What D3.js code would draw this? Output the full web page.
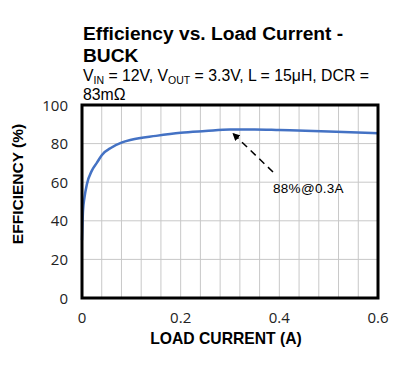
<!DOCTYPE html>
<html><head><meta charset="utf-8">
<script src="https://cdn.jsdelivr.net/npm/d3@7/dist/d3.min.js"></script>
<style>body{margin:0;background:#fff}svg{display:block}</style>
</head><body>
<script>
const loadCurrent = [0, 0.002, 0.005, 0.01, 0.02, 0.03, 0.04, 0.06, 0.08, 0.1, 0.15, 0.2, 0.25, 0.3, 0.35, 0.4, 0.5, 0.6];
const efficiency  = [30, 45, 52, 59, 66, 70, 74, 78, 80.5, 82, 84, 85.6, 86.5, 87.3, 87.3, 87, 86.3, 85.3];
const xTicks = [0, 0.2, 0.4, 0.6];
const yTicks = [0, 20, 40, 60, 80, 100];
const xGrid = d3.range(0, 16).map(i => i * 0.04);
const annotation = {text: "88%@0.3A", x: 0.3, y: 87.3};

const W = 400, H = 369;
const m = {left: 82, right: 22, top: 105, bottom: 71};
const svg = d3.select("body").append("svg").attr("width", W).attr("height", H);
const x = d3.scaleLinear().domain([0, 0.6]).range([m.left, W - m.right]);
const y = d3.scaleLinear().domain([0, 100]).range([H - m.bottom, m.top]);

// grid
svg.append("g").selectAll("line").data(xGrid.slice(1)).join("line")
  .attr("x1", d => x(d)).attr("x2", d => x(d)).attr("y1", y(0)).attr("y2", y(100))
  .attr("stroke", "#c8c8c8").attr("stroke-width", 1);
svg.append("g").selectAll("line").data(yTicks.slice(1, -1)).join("line")
  .attr("x1", x(0)).attr("x2", x(0.6)).attr("y1", d => y(d)).attr("y2", d => y(d))
  .attr("stroke", "#c8c8c8").attr("stroke-width", 1);

// line
svg.append("path").datum(loadCurrent.map((c, i) => [c, efficiency[i]]))
  .attr("fill", "none").attr("stroke", "#4472C4").attr("stroke-width", 2.5)
  .attr("d", d3.line().x(d => x(d[0])).y(d => y(d[1])).curve(d3.curveMonotoneX));

// frame
svg.append("rect").attr("x", x(0)).attr("y", y(100)).attr("width", x(0.6) - x(0)).attr("height", y(0) - y(100))
  .attr("fill", "none").attr("stroke", "#000").attr("stroke-width", 3);

// axes labels
const tickFont = "'Open Sans', 'Liberation Sans', sans-serif";
svg.append("g").selectAll("text").data(yTicks).join("text")
  .attr("x", 68).attr("y", d => y(d) + 5.5).attr("text-anchor", "end")
  .attr("font-family", tickFont).attr("font-size", 15).attr("fill", "#222").text(d => d);
svg.append("g").selectAll("text").data(xTicks).join("text")
  .attr("x", d => x(d)).attr("y", 323).attr("text-anchor", "middle")
  .attr("font-family", tickFont).attr("font-size", 15).attr("fill", "#222").text(d => d);

svg.append("text").attr("x", 226).attr("y", 344).attr("text-anchor", "middle")
  .attr("font-family", "'Liberation Sans', Arial, sans-serif").attr("font-weight", "bold").attr("font-size", 15.7)
  .text("LOAD CURRENT (A)");
svg.append("text").attr("transform", `translate(23,184) rotate(-90)`).attr("text-anchor", "middle")
  .attr("font-family", "'Liberation Sans', Arial, sans-serif").attr("font-weight", "bold").attr("font-size", 15.5)
  .text("EFFICIENCY (%)");

// title
const tf = "'Liberation Sans', Arial, sans-serif";
svg.append("text").attr("x", 83).attr("y", 40).attr("font-family", tf).attr("font-weight", "bold").attr("font-size", 19.2)
  .text("Efficiency vs. Load Current -");
svg.append("text").attr("x", 83).attr("y", 62).attr("font-family", tf).attr("font-weight", "bold").attr("font-size", 19.2)
  .text("BUCK");
const sub = svg.append("text").attr("x", 83).attr("y", 81).attr("font-family", tf).attr("font-size", 15.8);
sub.append("tspan").text("V");
sub.append("tspan").attr("font-size", 10.5).attr("dy", 3).text("IN");
sub.append("tspan").attr("dy", -3).text(" = 12V, V");
sub.append("tspan").attr("font-size", 10.5).attr("dy", 3).text("OUT");
sub.append("tspan").attr("dy", -3).text(" = 3.3V, L = 15μH, DCR =");
svg.append("text").attr("x", 83).attr("y", 100).attr("font-family", tf).attr("font-size", 15.8).text("83mΩ");

// annotation
svg.append("defs").append("marker").attr("id", "ah").attr("viewBox", "0 0 10 10")
  .attr("refX", 9).attr("refY", 5).attr("markerWidth", 5).attr("markerHeight", 5).attr("orient", "auto")
  .append("path").attr("d", "M0,0L10,5L0,10z").attr("fill", "#000");
svg.append("line").attr("x1", 273).attr("y1", 172).attr("x2", x(annotation.x) + 3).attr("y2", y(annotation.y) + 4)
  .attr("stroke", "#000").attr("stroke-width", 1.5).attr("stroke-dasharray", "7,5").attr("marker-end", "url(#ah)");
svg.append("text").attr("x", 273).attr("y", 193).attr("font-family", tf).attr("font-size", 13.5)
  .attr("letter-spacing", 0.3).text(annotation.text);
</script>
</body></html>
